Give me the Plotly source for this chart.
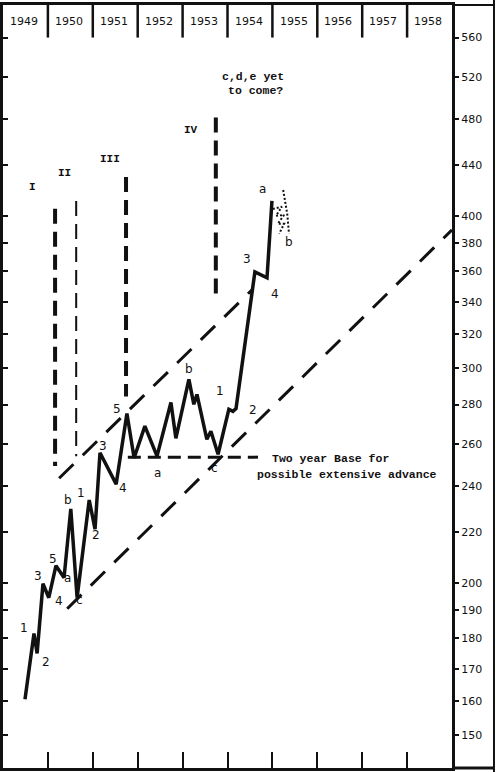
import math
import plotly.graph_objects as go

# ---------------- data ----------------
years = [1949, 1950, 1951, 1952, 1953, 1954, 1955, 1956, 1957, 1958]
year_edges = [1950, 1951, 1952, 1953, 1954, 1955, 1956, 1957, 1958]
y_ticks = [150, 160, 170, 180, 190, 200, 220, 240, 260, 280, 300, 320,
           340, 360, 380, 400, 440, 480, 520, 560]

# main price path (Dow Jones Industrials)
main_year = [1949.49, 1949.69, 1949.76, 1949.89, 1950.02, 1950.18, 1950.36,
             1950.51, 1950.65, 1950.92, 1951.05, 1951.16, 1951.52, 1951.76,
             1951.92, 1952.16, 1952.43, 1952.74, 1952.85, 1953.14, 1953.25,
             1953.32, 1953.54, 1953.63, 1953.79, 1954.03, 1954.12, 1954.19,
             1954.61, 1954.88, 1954.99]
main_value = [160.5, 181.7, 175.0, 199.6, 194.4, 206.5, 201.9,
              229.9, 194.4, 233.8, 221.3, 255.6, 240.9, 275.3,
              253.1, 268.8, 254.0, 281.1, 262.7, 293.6, 280.1,
              285.4, 262.2, 266.2, 254.9, 277.5, 276.4, 277.9,
              359.7, 355.7, 411.3]

# projected (dotted) paths after wave a
dot_a_year = [1955.24, 1955.28, 1955.33, 1955.37]
dot_a_value = [419.9, 410.5, 401.4, 386.6]
dot_b_year = [1955.01, 1955.21, 1955.08, 1955.26, 1955.12, 1955.26, 1955.15]
dot_b_value = [405.2, 406.8, 399.9, 400.6, 393.9, 393.9, 386.6]

# channel lines
upper_year = [1950.25, 1954.57]
upper_value = [243.6, 348.4]
lower_year = [1950.43, 1959.0]
lower_value = [190.4, 389.4]
base_year = [1951.78, 1954.68]
base_value = [253.5, 253.5]

# vertical degree markers
deg_names = ["I", "II", "III", "IV"]
deg_year = [1950.16, 1950.63, 1951.74, 1953.74]
deg_top = [405.2, 411.3, 430.3, 481.6]
deg_bottom = [249.3, 254.0, 284.3, 341.9]
deg_label_year = [1949.65, 1950.36, 1951.38, 1953.19]
deg_label_value = [422.3, 433.5, 445.1, 470.0]

# wave count labels
wave_text = ["1", "2", "3", "4", "5", "a", "b", "c",
             "1", "2", "3", "4", "5", "a", "b", "c",
             "1", "2", "3", "4", "a", "b"]
wave_year = [1949.47, 1949.96, 1949.78, 1950.25, 1950.11, 1950.43, 1950.45, 1950.71,
             1950.74, 1951.07, 1951.23, 1951.67, 1951.54, 1952.45, 1953.14, 1953.72,
             1953.83, 1954.57, 1954.43, 1955.06, 1954.77, 1955.37]
wave_value = [183.7, 172.1, 202.6, 193.3, 209.2, 201.9, 233.8, 193.7,
              236.9, 218.9, 258.8, 239.1, 277.5, 245.9, 299.2, 248.3,
              287.0, 276.9, 368.6, 345.1, 420.7, 380.8]

note_text = ["c,d,e yet", "to come?"]
note_year = [1954.57, 1954.63]
note_value = [520.1, 506.6]
base_text = ["Two year Base for", "possible extensive advance"]
base_text_year = [1954.95, 1954.61]
base_text_value = [253.1, 245.5]

# ---------------- figure ----------------
Y_RANGE = [2.1490, 2.7749]
X_RANGE = [1949, 1959]
INK = "#111111"
MONO = "Liberation Mono"
HAND = "DejaVu Sans"

fig = go.Figure()

fig.add_trace(go.Scatter(x=main_year, y=main_value, mode="lines",
                         line=dict(color=INK, width=3.5), hoverinfo="skip"))
fig.add_trace(go.Scatter(x=dot_a_year, y=dot_a_value, mode="lines",
                         line=dict(color=INK, width=2, dash="2px,2px"), hoverinfo="skip"))
fig.add_trace(go.Scatter(x=dot_b_year, y=dot_b_value, mode="lines",
                         line=dict(color=INK, width=2, dash="2px,2px"), hoverinfo="skip"))

for xs, ys, dash in [(upper_year, upper_value, "20px,13px"),
                     (lower_year, lower_value, "20px,13px"),
                     (base_year, base_value, "13px,7px")]:
    fig.add_trace(go.Scatter(x=xs, y=ys, mode="lines",
                             line=dict(color=INK, width=3, dash=dash), hoverinfo="skip"))

for i in range(len(deg_year)):
    w = 2 if deg_names[i] == "II" else 4
    fig.add_trace(go.Scatter(x=[deg_year[i], deg_year[i]], y=[deg_top[i], deg_bottom[i]],
                             mode="lines", line=dict(color=INK, width=w, dash="15px,8px"),
                             hoverinfo="skip"))

# dummy trace for left inside-tick axis
fig.add_trace(go.Scatter(x=[None], y=[None], yaxis="y2", hoverinfo="skip"))

annotations = []
for t, xv, yv in zip(wave_text, wave_year, wave_value):
    annotations.append(dict(x=xv, y=math.log10(yv), text=t, showarrow=False,
                            font=dict(family=HAND, size=12, color=INK)))
for t, xv, yv in zip(deg_names, deg_label_year, deg_label_value):
    annotations.append(dict(x=xv, y=math.log10(yv), text="<b>" + t + "</b>", showarrow=False,
                            font=dict(family=MONO, size=11, color=INK)))
for t, xv, yv in zip(note_text, note_year, note_value):
    annotations.append(dict(x=xv, y=math.log10(yv), text="<b>" + t + "</b>", showarrow=False,
                            font=dict(family=MONO, size=11.5, color=INK)))
for t, xv, yv in zip(base_text, base_text_year, base_text_value):
    annotations.append(dict(x=xv, y=math.log10(yv), text="<b>" + t + "</b>", showarrow=False,
                            xanchor="left", font=dict(family=MONO, size=11.5, color=INK)))

# header band: from the 560 level up to the top of the frame
header_frac = (Y_RANGE[1] - math.log10(560)) / (Y_RANGE[1] - Y_RANGE[0])
header_mid = 1 - header_frac / 2
for yr in years:
    annotations.append(dict(x=yr + 0.47, y=header_mid, yref="paper", yanchor="middle",
                            xanchor="center", text=str(yr), showarrow=False,
                            font=dict(family=HAND, size=11, color=INK)))

shapes = [dict(type="line", xref="x", yref="y", x0=X_RANGE[0], x1=X_RANGE[1],
               y0=math.log10(560), y1=math.log10(560), line=dict(color=INK, width=2))]
for e in year_edges:
    shapes.append(dict(type="line", xref="x", yref="paper", x0=e, x1=e,
                       y0=1 - header_frac, y1=1, line=dict(color=INK, width=2.5)))
# outer frame to the right of the value axis
shapes.append(dict(type="line", xref="paper", yref="paper", x0=1.0935, x1=1.0935,
                   y0=-0.01, y1=1.01, line=dict(color=INK, width=2)))
shapes.append(dict(type="line", xref="paper", yref="paper", x0=1.0, x1=1.0935,
                   y0=1, y1=1, line=dict(color=INK, width=2)))
shapes.append(dict(type="line", xref="paper", yref="paper", x0=1.0, x1=1.0935,
                   y0=0, y1=0, line=dict(color=INK, width=3)))

fig.update_layout(
    width=496, height=772,
    margin=dict(l=3, r=44, t=2, b=4),
    paper_bgcolor="white", plot_bgcolor="white",
    showlegend=False,
    xaxis=dict(range=X_RANGE, showgrid=False, zeroline=False, showline=True,
               linecolor=INK, linewidth=3, mirror=True,
               tickvals=year_edges, ticks="inside", ticklen=16, tickwidth=2,
               tickcolor=INK, showticklabels=False),
    yaxis=dict(type="log", range=Y_RANGE, side="right", showgrid=False, zeroline=False,
               showline=True, linecolor=INK, linewidth=3,
               tickvals=y_ticks, ticktext=[str(v) for v in y_ticks],
               ticks="outside", ticklen=4, tickwidth=2, tickcolor=INK,
               tickfont=dict(family=HAND, size=11, color=INK)),
    yaxis2=dict(type="log", range=Y_RANGE, overlaying="y", side="left", showgrid=False,
                zeroline=False, showline=True, linecolor=INK, linewidth=3,
                tickvals=y_ticks, ticks="inside", ticklen=5, tickwidth=2,
                tickcolor=INK, showticklabels=False),
    annotations=annotations,
    shapes=shapes,
)

fig.write_html(
    "out.html",
    config={"displayModeBar": False},
    post_script="document.body.style.margin='0px';document.body.style.overflow='hidden';",
)
